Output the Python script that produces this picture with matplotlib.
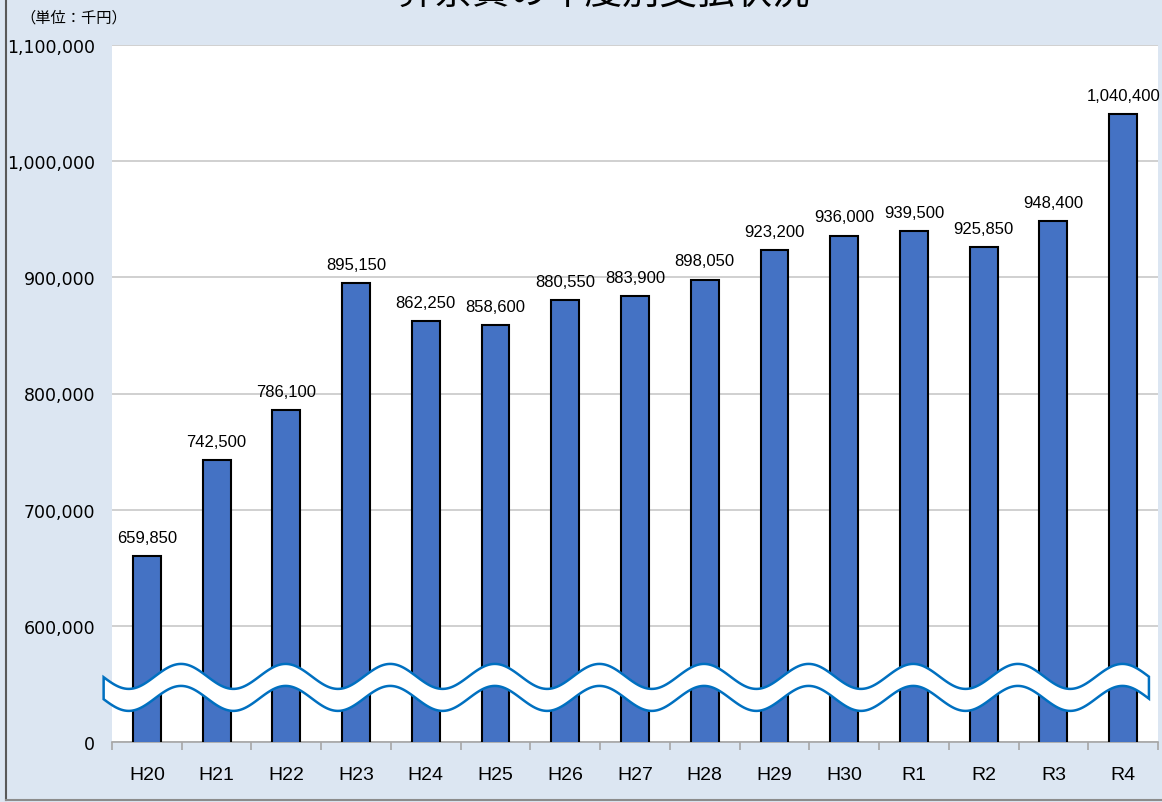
import numpy as np
import matplotlib.pyplot as plt
from matplotlib.patches import Polygon
from matplotlib.ticker import FixedLocator, FuncFormatter

years = ["H20", "H21", "H22", "H23", "H24", "H25", "H26", "H27",
         "H28", "H29", "H30", "R1", "R2", "R3", "R4"]
payments = [659850, 742500, 786100, 895150, 862250, 858600, 880550, 883900,
            898050, 923200, 936000, 939500, 925850, 948400, 1040400]
y_ticks = [500000, 600000, 700000, 800000, 900000, 1000000, 1100000]

bg = "#dce6f2"
bar_color = "#4472c4"
wave_color = "#0070c0"

fig = plt.figure(figsize=(11.62, 8.03), dpi=100, facecolor=bg)
ax = fig.add_axes([112 / 1162, 60 / 803, 1046 / 1162, 697 / 803])
ax.set_facecolor("white")

x = np.arange(len(years))
ax.bar(x, payments, width=0.4, color=bar_color, edgecolor="black",
       linewidth=1.5, zorder=3)

for xi, v in zip(x, payments):
    ax.annotate(f"{v:,}", (xi, v), xytext=(0, 8), textcoords="offset points",
                ha="center", va="bottom", fontsize=12,
                family="Liberation Sans", zorder=4)

ax.set_xlim(-0.5, len(years) - 0.5)
ax.set_ylim(500000, 1100000)

ax.set_yticks(y_ticks)
ax.yaxis.set_major_formatter(FuncFormatter(
    lambda v, p: "0" if v <= 500000 else f"{int(v):,}"))
ax.tick_params(axis="y", length=0, pad=12, labelsize=12.5)
ax.grid(axis="y", color="#c8c8c8", linewidth=1.2, zorder=0)

ax.set_xticks(x)
ax.set_xticklabels(years, family="Liberation Sans", fontsize=14)
ax.xaxis.set_minor_locator(FixedLocator(np.arange(-0.5, len(years), 1.0)))
ax.tick_params(axis="x", which="major", length=0, pad=17)
ax.tick_params(axis="x", which="minor", length=6, color="#a6a6a6", width=1.2)

for s in ["left", "right", "top"]:
    ax.spines[s].set_visible(False)
ax.spines["bottom"].set_color("#a6a6a6")
ax.spines["bottom"].set_linewidth(1.2)

# wavy break marker over the bars
px = 100000 / 116.2
xs = np.linspace(-0.62, 14.37, 600)
top = 556460 + 12.5 * px * np.cos(2 * np.pi * (xs - 0.49) / 1.5)
bottom = top - 22 * px
verts = np.vstack([np.column_stack([xs, top]),
                   np.column_stack([xs[::-1], bottom[::-1]])])
ax.add_patch(Polygon(verts, closed=True, facecolor="white",
                     edgecolor=wave_color, linewidth=1.8, zorder=5,
                     clip_on=False))

fig.text(604 / 1162, 1 - 5 / 803, "葬祭費の年度別支払状況",
         family="Noto Sans CJK JP", fontsize=27, ha="center", va="baseline")
fig.text(20 / 1162, 1 - 18 / 803, "（単位：千円）",
         family="Noto Sans CJK JP", fontsize=11, ha="left", va="center")

# outer frame lines
fig.add_artist(plt.Line2D([6 / 1162, 6 / 1162], [2 / 803, 1], color="#595959",
                          linewidth=1.5, transform=fig.transFigure))
fig.add_artist(plt.Line2D([6 / 1162, 1], [2 / 803, 2 / 803], color="#8c8c8c",
                          linewidth=1.5, transform=fig.transFigure))

fig.savefig("out.png", dpi=100, facecolor=bg)
